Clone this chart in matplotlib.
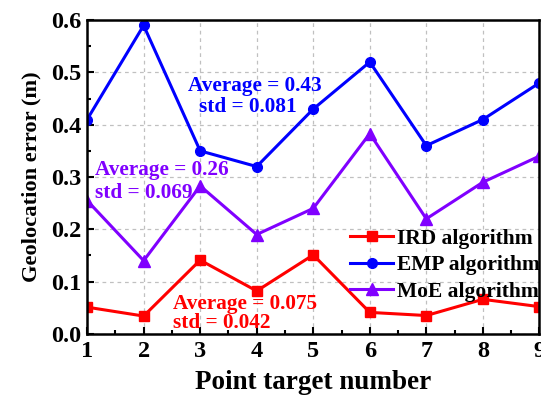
import matplotlib
matplotlib.use("Agg")
import matplotlib.pyplot as plt
from matplotlib.ticker import MultipleLocator

# error per point target for each algorithm
targets = [1, 2, 3, 4, 5, 6, 7, 8, 9]
ird_err = [0.051, 0.034, 0.141, 0.082, 0.151, 0.041, 0.035, 0.066, 0.052]
emp_err = [0.41, 0.59, 0.35, 0.32, 0.43, 0.52, 0.36, 0.41, 0.48]
moe_err = [0.255, 0.14, 0.283, 0.19, 0.24, 0.383, 0.22, 0.29, 0.34]

RED = "#ff0000"
BLUE = "#0000ff"
PURPLE = "#8000ff"

plt.rcParams["font.family"] = ["Liberation Serif", "DejaVu Serif"]
plt.rcParams["font.weight"] = "bold"

fig = plt.figure(figsize=(5.41, 3.96), dpi=100)
ax = fig.add_axes([0.161, 0.157, 0.836, 0.792])

ax.plot(targets, ird_err, color=RED, lw=2.2, marker="s", ms=6.5, label="IRD algorithm")
ax.plot(targets, emp_err, color=BLUE, lw=2.2, marker="o", ms=7, label="EMP algorithm")
ax.plot(targets, moe_err, color=PURPLE, lw=2.2, marker="^", ms=8, label="MoE algorithm")

ax.set_xlim(1, 9)
ax.set_ylim(0, 0.6)
ax.xaxis.set_major_locator(MultipleLocator(1))
ax.xaxis.set_minor_locator(MultipleLocator(0.5))
ax.yaxis.set_major_locator(MultipleLocator(0.1))
ax.yaxis.set_minor_locator(MultipleLocator(0.05))
ax.yaxis.set_major_formatter(plt.FormatStrFormatter("%.1f"))
ax.tick_params(which="both", direction="in", top=False, right=False, labelsize=17.5, width=1.5)
ax.tick_params(which="major", length=5)
ax.tick_params(which="minor", length=3)
ax.tick_params(axis="x", pad=5)
ax.tick_params(axis="y", pad=4)
for s in ax.spines.values():
    s.set_linewidth(1.8)

ax.grid(True, which="major", ls=(0, (3, 3)), color="#c0c0c0", lw=0.9)
ax.set_axisbelow(True)

ax.set_xlabel("Point target number", fontsize=19.5, fontweight="bold", labelpad=6)
ax.set_ylabel("Geolocation error (m)", fontsize=16.2, fontweight="bold", labelpad=7)

# summary statistics next to each curve
txt = dict(fontsize=15.3, fontweight="bold", va="center")
ax.text(2.79, 0.474, "Average = 0.43", color=BLUE, **txt)
ax.text(2.98, 0.433, "std = 0.081", color=BLUE, **txt)
ax.text(1.14, 0.313, "Average = 0.26", color=PURPLE, **txt)
ax.text(1.14, 0.270, "std = 0.069", color=PURPLE, **txt)
ax.text(2.52, 0.057, "Average = 0.075", color=RED, **txt)
ax.text(2.52, 0.021, "std = 0.042", color=RED, **txt)

ax.legend(loc="lower right", bbox_to_anchor=(1.045, 0.04), frameon=False,
          prop={"size": 15.5, "weight": "bold"}, handlelength=2.0,
          handletextpad=0.2, labelspacing=0.3)

fig.savefig("out.png", dpi=100)
